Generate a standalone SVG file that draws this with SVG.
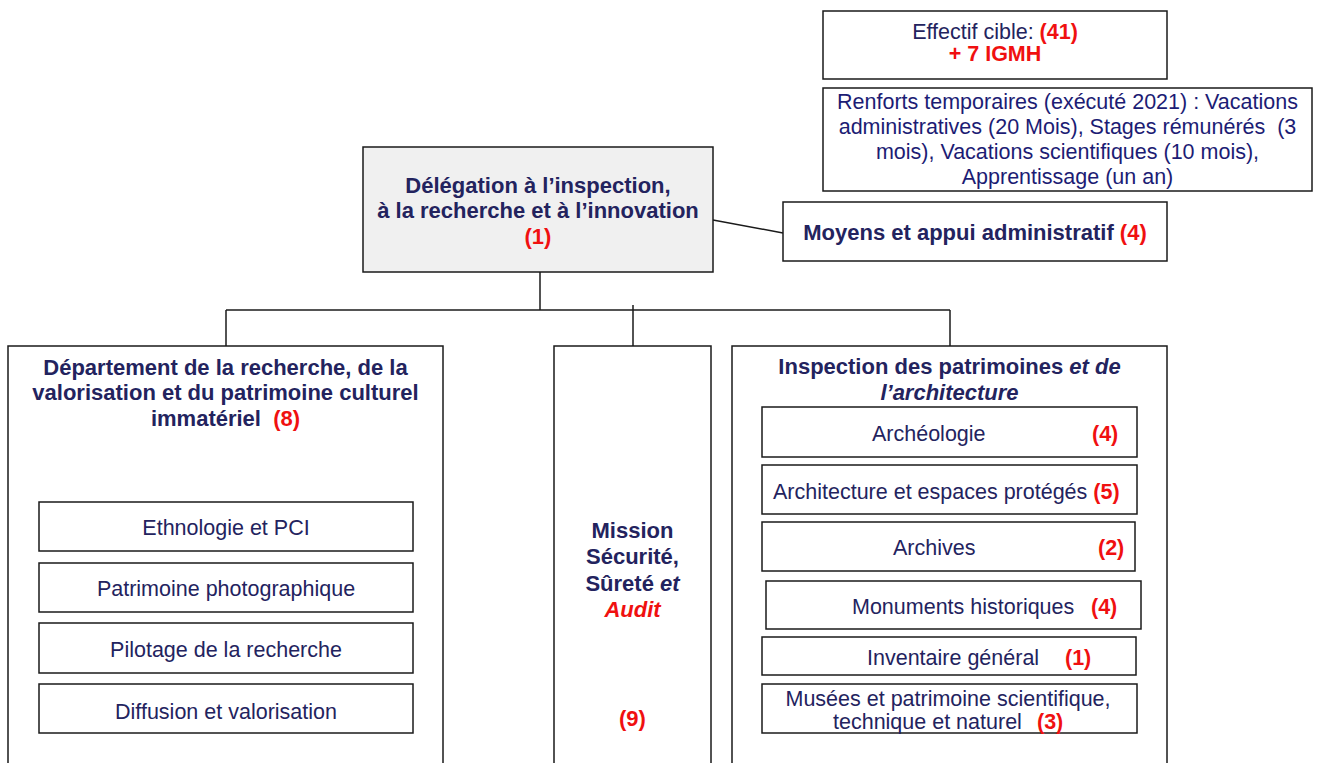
<svg xmlns="http://www.w3.org/2000/svg" width="1323" height="763" viewBox="0 0 1323 763">
<style>
.box{fill:#fff;stroke:#1a1a1a;stroke-width:1.5}
.grey{fill:#f0f0f0;stroke:#1a1a1a;stroke-width:1.5}
.t{font-family:"Liberation Sans",Arial,sans-serif;font-size:21.5px;fill:#23235e}
.c{text-anchor:middle}
.b{font-weight:bold;font-size:22px}
.i{font-style:italic}
.r{fill:#f01010;font-weight:bold}
.bl{fill:#1c1c74}
.ln{fill:none;stroke:#1a1a1a;stroke-width:1.5}
</style>
<rect width="1323" height="763" fill="#fff"/>
<g id="connectors">
<line class="ln" x1="713" y1="220" x2="783" y2="233"/>
<line class="ln" x1="540" y1="272" x2="540" y2="310"/>
<line class="ln" x1="226" y1="310" x2="950" y2="310"/>
<line class="ln" x1="226" y1="310" x2="226" y2="346"/>
<line class="ln" x1="633" y1="305" x2="633" y2="346"/>
<line class="ln" x1="950" y1="310" x2="950" y2="346"/>
</g>
<g id="effectif">
<rect class="box" x="823" y="11" width="344" height="68"/>
<text class="t c" x="995" y="39">Effectif cible: <tspan class="r">(41)</tspan></text>
<text class="t c r" x="995" y="61">+ 7 IGMH</text>
</g>
<g id="renforts">
<rect class="box" x="823" y="88" width="489" height="103"/>
<text class="t c bl" x="1067.5" y="109">Renforts temporaires (exécuté 2021) : Vacations</text>
<text class="t c bl" x="1067.5" y="134" xml:space="preserve">administratives (20 Mois), Stages rémunérés  (3</text>
<text class="t c bl" x="1067.5" y="159">mois), Vacations scientifiques (10 mois),</text>
<text class="t c bl" x="1067.5" y="184">Apprentissage (un an)</text>
</g>
<g id="delegation">
<rect class="grey" x="363" y="147" width="350" height="125"/>
<text class="t c b" x="538" y="193">Délégation à l’inspection,</text>
<text class="t c b" x="538" y="218">à la recherche et à l’innovation</text>
<text class="t c b r" x="538" y="244">(1)</text>
</g>
<g id="moyens">
<rect class="box" x="783" y="202" width="384" height="59"/>
<text class="t c b" x="975" y="240">Moyens et appui administratif <tspan class="r">(4)</tspan></text>
</g>
<g id="departement">
<rect class="box" x="8" y="346" width="435" height="430"/>
<text class="t c b" x="225.5" y="375">Département de la recherche, de la</text>
<text class="t c b" x="225.5" y="400">valorisation et du patrimoine culturel</text>
<text class="t c b" x="225.5" y="426" xml:space="preserve">immatériel  <tspan class="r">(8)</tspan></text>
<rect class="box" x="39" y="502" width="374" height="49"/>
<text class="t c" x="226" y="535">Ethnologie et PCI</text>
<rect class="box" x="39" y="563" width="374" height="49"/>
<text class="t c" x="226" y="596">Patrimoine photographique</text>
<rect class="box" x="39" y="623" width="374" height="50"/>
<text class="t c" x="226" y="657">Pilotage de la recherche</text>
<rect class="box" x="39" y="684" width="374" height="49"/>
<text class="t c" x="226" y="719">Diffusion et valorisation</text>
</g>
<g id="mission">
<rect class="box" x="554" y="346" width="157" height="430"/>
<text class="t c b" x="632.5" y="538">Mission</text>
<text class="t c b" x="632.5" y="564">Sécurité,</text>
<text class="t c b" x="632.5" y="591">Sûreté <tspan class="i">et</tspan></text>
<text class="t c b r i" x="632.5" y="617">Audit</text>
<text class="t c b r" x="632.5" y="726">(9)</text>
</g>
<g id="inspection">
<rect class="box" x="732" y="346" width="435" height="430"/>
<text class="t c b" x="949.5" y="374">Inspection des patrimoines <tspan class="i">et de</tspan></text>
<text class="t c b i" x="949.5" y="400">l’architecture</text>
<rect class="box" x="762" y="407" width="375" height="50"/>
<text class="t" x="872" y="441">Archéologie</text>
<text class="t r" x="1092" y="441">(4)</text>
<rect class="box" x="762" y="465" width="375" height="49"/>
<text class="t" x="773" y="499">Architecture et espaces protégés <tspan class="r">(5)</tspan></text>
<rect class="box" x="762" y="522" width="373" height="49"/>
<text class="t" x="893" y="555">Archives</text>
<text class="t r" x="1098" y="555">(2)</text>
<rect class="box" x="766" y="581" width="375" height="48"/>
<text class="t" x="852" y="614">Monuments historiques</text>
<text class="t r" x="1091" y="614">(4)</text>
<rect class="box" x="762" y="637" width="374" height="38"/>
<text class="t" x="867" y="665">Inventaire général</text>
<text class="t r" x="1065" y="665">(1)</text>
<rect class="box" x="762" y="684" width="375" height="49"/>
<text class="t c" x="948" y="706">Musées et patrimoine scientifique,</text>
<text class="t" x="833" y="729">technique et naturel</text>
<text class="t r" x="1037" y="729">(3)</text>
</g>
</svg>
